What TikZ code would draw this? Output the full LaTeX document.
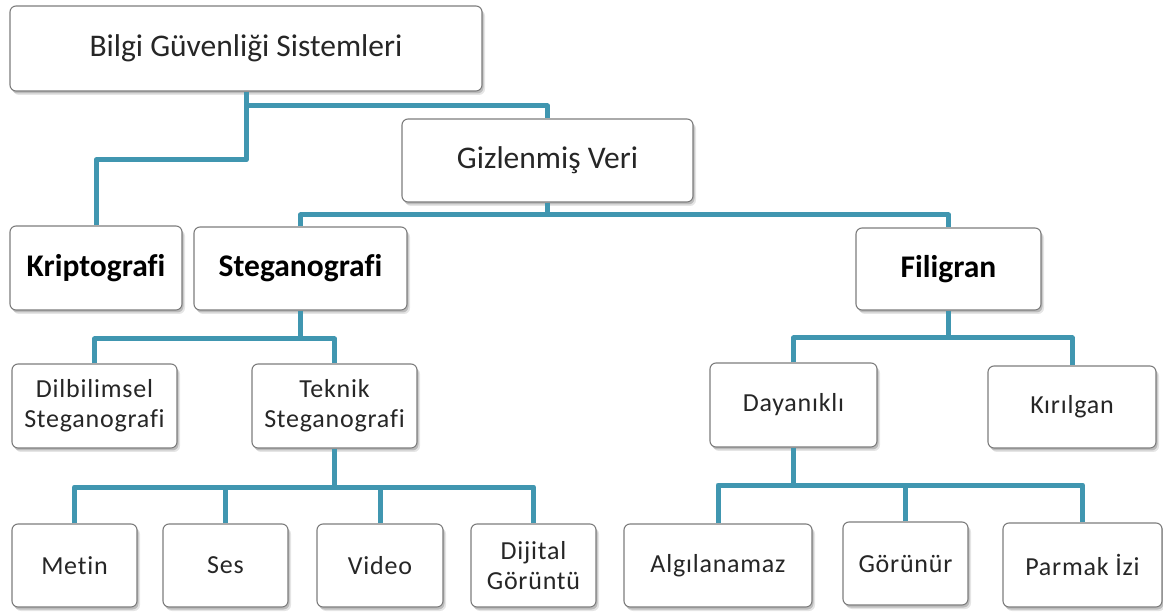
\documentclass[tikz,border=0pt]{standalone}
\usepackage{fontspec}
\setmainfont{Carlito}[Ligatures=NoCommon]
\newfontfamily\spacedfont{Carlito}[Ligatures=NoCommon, LetterSpace=3]
\usetikzlibrary{shadows}
\definecolor{linkblue}{RGB}{64,150,176}
\definecolor{boxedge}{RGB}{125,125,125}
\definecolor{txt}{RGB}{38,38,38}
\begin{document}
\begin{tikzpicture}[x=1pt,y=-1pt,
  box/.style={draw=boxedge, line width=1.1pt, rounded corners=6pt, fill=white,
    inner sep=0pt, align=center, text=txt,
    general shadow={shadow xshift=3pt, shadow yshift=-4pt, fill=black, opacity=0.10},
    general shadow={shadow xshift=1.5pt, shadow yshift=-2.5pt, fill=black, opacity=0.18}},
  big/.style={box, font=\fontsize{31.5}{37}\selectfont},
  heading/.style={box, font=\fontsize{31.5}{37}\selectfont\bfseries, text=black},
  small/.style={box, font=\spacedfont\fontsize{26}{30}\selectfont},
  conn/.style={draw=linkblue, line width=5pt, line join=round}
]
\useasboundingbox (0,0) rectangle (1163,612);

% boxes
\node[big, minimum width=472pt, minimum height=85pt] (bilgi) at (246,48.5) {Bilgi Güvenliği Sistemleri};
\node[big, minimum width=291pt, minimum height=83pt] (gizli) at (547.5,160.5) {Gizlenmiş Veri};
\node[heading, minimum width=172pt, minimum height=84pt] (kripto) at (96,268) {Kriptografi};
\node[heading, minimum width=213pt, minimum height=83pt] (stega) at (300.5,268.5) {Steganografi};
\node[heading, minimum width=185pt, minimum height=82pt] (filigran) at (948.5,269) {Filigran};
\node[small, minimum width=165pt, minimum height=84pt] (dil) at (94.5,406) {Dilbilimsel\\Steganografi};
\node[small, minimum width=165pt, minimum height=84pt] (teknik) at (334.5,406) {Teknik\\Steganografi};
\node[small, minimum width=167pt, minimum height=84pt] (dayanikli) at (793.5,405) {Dayanıklı};
\node[small, minimum width=168pt, minimum height=82pt] (kirilgan) at (1072,407) {Kırılgan};
\node[small, minimum width=125pt, minimum height=83pt] (metin) at (74.5,565.5) {Metin};
\node[small, minimum width=125pt, minimum height=83pt] (ses) at (225.5,565.5) {Ses};
\node[small, minimum width=126pt, minimum height=83pt] (video) at (380,565.5) {Video};
\node[small, minimum width=125pt, minimum height=83pt] (dijital) at (533.5,565.5) {Dijital\\Görüntü};
\node[small, minimum width=188pt, minimum height=83pt] (algi) at (718,565.5) {Algılanamaz};
\node[small, minimum width=125pt, minimum height=83pt] (gorunur) at (905.5,563.5) {Görünür};
\node[small, minimum width=159pt, minimum height=84pt] (parmak) at (1082.5,565) {Parmak İzi};

% bus levels
\coordinate (busA) at (0,106);
\coordinate (busK) at (0,160);
\coordinate (busB) at (0,215);
\coordinate (busC) at (0,339);
\coordinate (busD) at (0,338);
\coordinate (busE) at (0,487);
\coordinate (busF) at (0,485);

% connectors
\draw[conn] (bilgi.south) -- (bilgi.south |- busK) -| (kripto.north);
\draw[conn] (bilgi.south |- busA) -| (gizli.north);

\draw[conn] (gizli.south) -- (gizli.south |- busB);
\draw[conn] (stega.north) |- (gizli.south |- busB) -| (filigran.north);

\draw[conn] (stega.south) -- (stega.south |- busC);
\draw[conn] (dil.north) |- (stega.south |- busC) -| (teknik.north);

\draw[conn] (teknik.south) -- (teknik.south |- busE);
\draw[conn] (metin.north) |- (teknik.south |- busE) -| (dijital.north);
\draw[conn] (ses.north) -- (ses.north |- busE);
\draw[conn] (video.north) -- (video.north |- busE);

\draw[conn] (filigran.south) -- (filigran.south |- busD);
\draw[conn] (dayanikli.north) |- (filigran.south |- busD) -| (kirilgan.north);

\draw[conn] (dayanikli.south) -- (dayanikli.south |- busF);
\draw[conn] (algi.north) |- (dayanikli.south |- busF) -| (parmak.north);
\draw[conn] (gorunur.north) -- (gorunur.north |- busF);
\end{tikzpicture}
\end{document}
